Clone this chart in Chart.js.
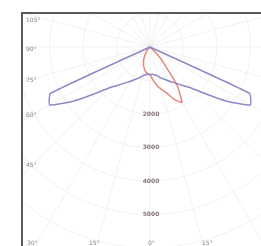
<!DOCTYPE html>
<html lang="en">
<head>
    <meta charset="UTF-8">
    <title>Polar light distribution</title>
    <script src="https://cdn.jsdelivr.net/npm/chart.js@4.4.1/dist/chart.umd.min.js"></script>
    <style>
        html, body {
            margin: 0;
            padding: 0;
            background: #fff;
            overflow: hidden;
            width: 261px;
            height: 246px;
        }
        .frame {
            position: absolute;
            left: 21px;
            top: 12px;
            width: 300px;
            height: 300px;
            border-left: 2px solid #5a5a5a;
            border-top: 2px solid #5a5a5a;
            overflow: hidden;
        }
        #polar {
            position: absolute;
            left: -141px;
            top: -235px;
        }
        .ang {
            position: absolute;
            font-family: "DejaVu Sans", sans-serif;
            font-size: 6px;
            color: #8a8080;
            white-space: nowrap;
        }
    </style>
</head>
<body>
    <div class="frame">
        <canvas id="polar" width="536" height="536"></canvas>
    </div>

    <script>
        // gamma angles 0..180 in 5 degree steps
        const gamma = Array.from({length: 37}, (_, i) => i * 5);

        // C0 / C180 plane (purple), left and right half
        const c0 = [820, 820, 850, 900, 990, 1070, 1190, 1310, 1490, 1730, 2180, 2840, 3460, 3280,
                    0, 0, 0, 0, 0, 0, 0, 0, 0, 0, 0, 0, 0, 0, 0, 0, 0, 0, 0, 0, 0, 0, 0];
        const c180 = [820, 820, 850, 900, 990, 1070, 1190, 1310, 1490, 1730, 2180, 2840, 3460, 3280,
                    0, 0, 0, 0, 0, 0, 0, 0, 0, 0, 0, 0, 0, 0, 0, 0, 0, 0, 0, 0, 0, 0, 0];

        // C90 / C270 plane (red)
        const c270 = [820, 800, 750, 660, 570, 450, 330, 210, 150, 90,
                    0, 0, 0, 0, 0, 0, 0, 0, 0, 0, 0, 0, 0, 0, 0, 0, 0, 0, 0, 0, 0, 0, 0, 0, 0, 0, 0];
        const c90 = [820, 985, 1150, 1310, 1460, 1730, 1910, 1430, 660, 300,
                    0, 0, 0, 0, 0, 0, 0, 0, 0, 0, 0, 0, 0, 0, 0, 0, 0, 0, 0, 0, 0, 0, 0, 0, 0, 0, 0];

        const radialTicks = [2000, 3000, 4000, 5000];

        const angleLabels = [
            {text: '105°', left: 3, top: 2},
            {text: '90°', left: 3, top: 31},
            {text: '75°', left: 3, top: 62},
            {text: '60°', left: 3, top: 97},
            {text: '45°', left: 3, top: 147},
            {text: '30°', left: 4, top: 225},
            {text: '15°', left: 66, top: 225},
            {text: '0°', left: 125, top: 225},
            {text: '15°', left: 179, top: 225}
        ];

        // full circle: index 0 = nadir, going round through the left side
        function fullCircle(left, right) {
            const out = [];
            for (let i = 0; i < 72; i++) {
                out.push(i <= 36 ? left[i] : right[72 - i]);
            }
            return out;
        }

        const labels = Array.from({length: 72}, (_, i) => String(i * 5));

        const frame = document.querySelector('.frame');
        angleLabels.forEach(a => {
            const s = document.createElement('span');
            s.className = 'ang';
            s.textContent = a.text;
            s.style.left = a.left + 'px';
            s.style.top = a.top + 'px';
            frame.appendChild(s);
        });

        const tickLabelPlugin = {
            id: 'tickLabels',
            afterDraw(chart) {
                const scale = chart.scales.r;
                const ctx = chart.ctx;
                ctx.save();
                ctx.font = 'bold 6px "DejaVu Sans", sans-serif';
                ctx.fillStyle = '#857777';
                ctx.textAlign = 'center';
                ctx.textBaseline = 'middle';
                radialTicks.forEach(v => {
                    const d = scale.getDistanceFromCenterForValue(v);
                    ctx.fillText(String(v), scale.xCenter + 1, scale.yCenter + d);
                });
                ctx.restore();
            }
        };

        new Chart(document.getElementById('polar'), {
            type: 'radar',
            data: {
                labels: labels,
                datasets: [{
                    label: 'C0 - C180',
                    data: fullCircle(c0, c180),
                    borderColor: '#8f88c8',
                    borderWidth: 1.5,
                    pointRadius: 0,
                    fill: false,
                    tension: 0.12
                }, {
                    label: 'C90 - C270',
                    data: fullCircle(c270, c90),
                    borderColor: '#e2877c',
                    borderWidth: 1.5,
                    pointRadius: 0,
                    fill: false,
                    tension: 0.12
                }]
            },
            options: {
                responsive: false,
                animation: false,
                layout: {padding: 0},
                plugins: {
                    legend: {display: false},
                    tooltip: {enabled: false}
                },
                scales: {
                    r: {
                        min: 0,
                        max: 8000,
                        startAngle: 180,
                        ticks: {display: false, stepSize: 1000},
                        pointLabels: {display: false},
                        grid: {circular: true, color: '#f1f1f1', lineWidth: 1},
                        angleLines: {
                            color: ctx => ctx.index % 3 === 0 ? '#f1f1f1' : 'transparent',
                            lineWidth: 1
                        }
                    }
                }
            },
            plugins: [tickLabelPlugin]
        });
    </script>
</body>
</html>
